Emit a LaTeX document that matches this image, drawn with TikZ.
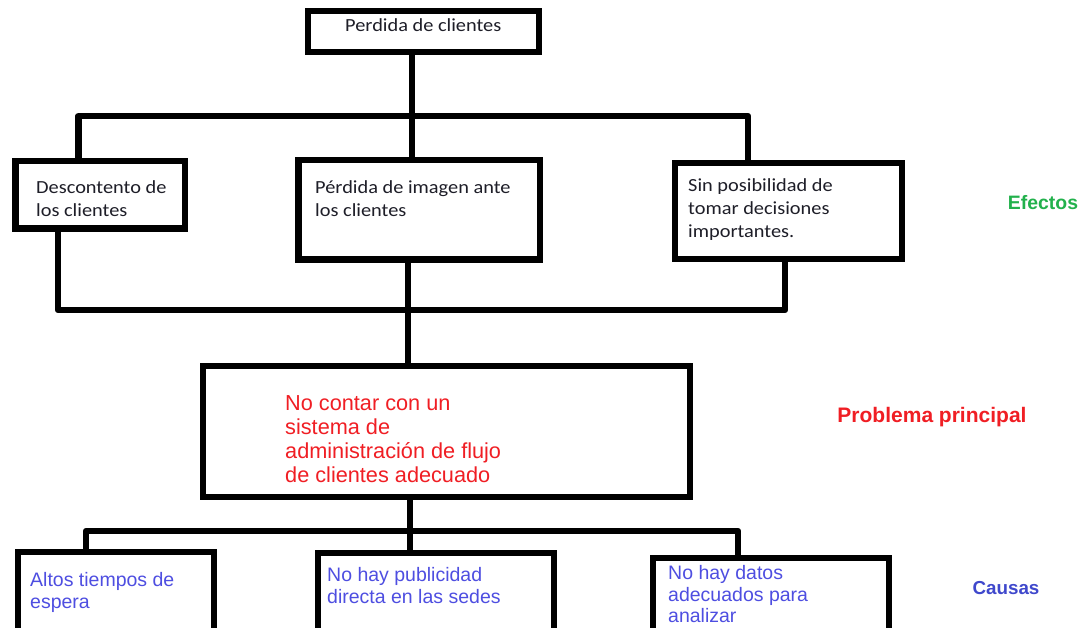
\documentclass[tikz,border=0pt]{standalone}
\usepackage{fontspec}
\setmainfont[FakeStretch=1.1]{Carlito}
\newfontfamily\arialf{Liberation Sans}
\definecolor{efgreen}{RGB}{34,177,76}
\definecolor{pred}{RGB}{240,30,36}
\definecolor{cblue}{RGB}{63,72,204}
\definecolor{tblue}{RGB}{78,78,225}
\definecolor{ttext}{RGB}{30,30,40}
\begin{document}
\begin{tikzpicture}[x=1pt,y=-1pt,
  box/.style={draw, line width=6.5pt, rectangle, anchor=north west, inner sep=0pt, outer sep=0pt},
  link/.style={line width=6.5pt, line join=round},
  etext/.style={anchor=north west, inner sep=0pt, align=left, text=ttext, font=\fontsize{18.5}{23}\selectfont},
  ptext/.style={anchor=north west, inner sep=0pt, align=left, text=pred, font=\arialf\fontsize{21.7}{24}\selectfont},
  ctext/.style={anchor=north west, inner sep=0pt, align=left, text=tblue, font=\arialf\fontsize{19.5}{21.8}\selectfont},
  tag/.style={anchor=center, inner sep=0pt, font=\arialf\bfseries\fontsize{19.4}{22}\selectfont}]
\clip (0,0) rectangle (1084,628);
\fill[white] (0,0) rectangle (1084,628);
% boxes
\node[box, minimum width=231pt, minimum height=41pt] (top) at (308,11) {};
\node[box, minimum width=169.5pt, minimum height=67.5pt] (b1) at (15.25,161.25) {};
\node[box, minimum width=241.5pt, minimum height=99.5pt] (b2) at (298.25,160.25) {};
\node[box, minimum width=227pt, minimum height=96pt] (b3) at (675,163) {};
\node[box, minimum width=487pt, minimum height=131pt] (main) at (203,366) {};
\node[box, minimum width=196pt, minimum height=100pt] (b4) at (18,552) {};
\node[box, minimum width=236pt, minimum height=100pt] (b5) at (318,553) {};
\node[box, minimum width=236pt, minimum height=100pt] (b6) at (653,558) {};
% texts
\node[etext] (ttop) at (345,18) {Perdida de clientes};
\node[etext] (t1) at (36,180) {Descontento de\\los clientes};
\node[etext] (t2) at (315,180) {Pérdida de imagen ante\\los clientes};
\node[etext] (t3) at (688,178) {Sin posibilidad de\\tomar decisiones\\importantes.};
\node[ptext] (tm) at (285,395) {No contar con un\\sistema de\\administración de flujo\\de clientes adecuado};
\node[ctext] (t4) at (30,572) {Altos tiempos de\\espera};
\node[ctext] (t5) at (327,567) {No hay publicidad\\directa en las sedes};
\node[ctext] (t6) at (668,565) {No hay datos\\adecuados para\\analizar};
% side labels
\node[tag, text=efgreen] (lef) at (1043,203) {Efectos};
\node[tag, text=pred, font=\arialf\bfseries\fontsize{21}{24}\selectfont] (lpp) at (932,417) {Problema principal};
\node[tag, text=cblue, font=\arialf\bfseries\fontsize{18.8}{22}\selectfont] (lca) at (1006,588) {Causas};
% connectors
\coordinate (jt) at (412,116);
\coordinate (jtl) at (78.5,116);
\coordinate (jtr) at (748,116);
\draw[link] (top.south -| jt) -- (jt);
\draw[link] (b1.north -| jtl) -- (jtl) -- (jtr) -- (b3.north -| jtr);
\draw[link] (jt) -- (b2.north -| jt);
\coordinate (jm) at (408,310);
\coordinate (jml) at (58,310);
\coordinate (jmr) at (785,310);
\draw[link] (b1.south -| jml) -- (jml) -- (jmr) -- (b3.south -| jmr);
\draw[link] (b2.south -| jm) -- (main.north -| jm);
\coordinate (jb) at (410,531);
\coordinate (jbl) at (86,531);
\coordinate (jbr) at (738,531);
\draw[link] (main.south -| jb) -- (jb);
\draw[link] (b4.north -| jbl) -- (jbl) -- (jbr) -- (b6.north -| jbr);
\draw[link] (jb) -- (b5.north -| jb);
\end{tikzpicture}
\end{document}
